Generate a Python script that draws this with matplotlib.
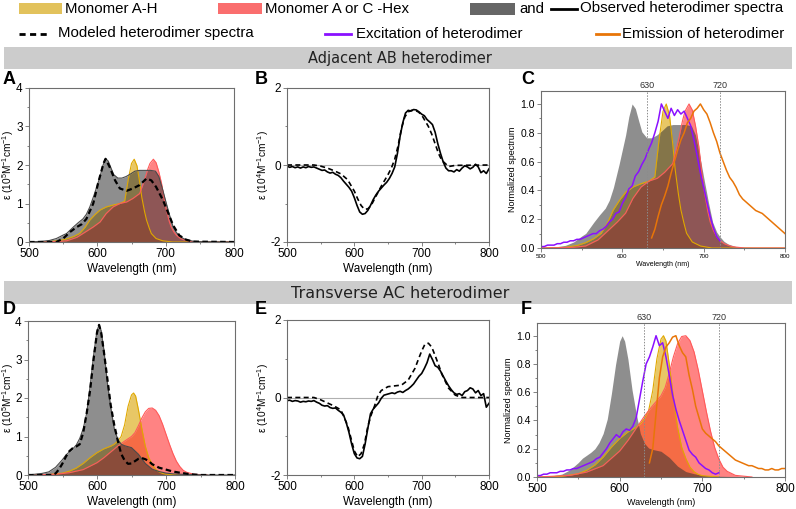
import numpy as np
import matplotlib
matplotlib.use("Agg")
import matplotlib.pyplot as plt
import matplotlib.ticker as mticker
from matplotlib.patches import Rectangle
from matplotlib.lines import Line2D

plt.rcParams['font.family'] = ['Liberation Sans', 'DejaVu Sans']
plt.rcParams['axes.unicode_minus'] = False
plt.rcParams['mathtext.fontset'] = 'custom'
plt.rcParams['mathtext.rm'] = 'Liberation Sans'
plt.rcParams['mathtext.it'] = 'Liberation Sans:italic'

W, H = 796, 509

# ---------- Adjacent AB heterodimer (absorption, 1e5 M-1 cm-1) ----------
A_gray_x = [500, 510, 520, 530, 540, 550, 555, 565, 572, 579, 584, 589, 596, 604, 608,
            612, 616, 620, 624, 630, 636, 642, 648, 655, 662, 670, 678, 685, 690, 695,
            701, 706, 711, 716, 720, 725, 730, 740, 750, 800]
A_gray_y = [0.0, 0.01, 0.02, 0.04, 0.09, 0.18, 0.22, 0.39, 0.5, 0.6, 0.72, 0.91, 1.26, 1.7, 1.98,
            2.17, 2.1, 1.92, 1.75, 1.66, 1.66, 1.7, 1.76, 1.84, 1.86, 1.86, 1.86, 1.84, 1.7, 1.4,
            1.0, 0.68, 0.39, 0.24, 0.17, 0.1, 0.06, 0.02, 0.01, 0.0]
A_dash_x = [500, 540, 550, 560, 570, 577, 584, 594, 601, 609, 612, 618, 626, 633, 643,
            652, 662, 672, 679, 686, 696, 704, 711, 720, 730, 740, 800]
A_dash_y = [0.0, 0.0, 0.09, 0.26, 0.39, 0.46, 0.6, 1.0, 1.52, 2.04, 2.16, 1.95, 1.6, 1.39, 1.33,
            1.39, 1.48, 1.65, 1.6, 1.43, 1.09, 0.74, 0.43, 0.17, 0.06, 0.01, 0.0]
A_yel_x = [500, 530, 545, 555, 565, 574, 582, 589, 597, 604, 613, 623, 633, 640, 645,
           650, 654, 658, 662, 665, 669, 672, 676, 679, 686, 696, 710, 800]
A_yel_y = [0.0, 0.01, 0.04, 0.08, 0.14, 0.22, 0.38, 0.57, 0.72, 0.83, 0.91, 0.96, 1.0, 1.06, 1.6,
           2.04, 2.15, 1.98, 1.55, 1.17, 0.8, 0.57, 0.36, 0.22, 0.09, 0.03, 0.0, 0.0]
A_red_x = [500, 540, 555, 570, 579, 594, 604, 613, 623, 633, 643, 652, 662, 669, 674,
           677, 682, 686, 690, 694, 698, 701, 705, 708, 712, 716, 721, 726, 735, 750, 800]
A_red_y = [0.0, 0.01, 0.03, 0.12, 0.22, 0.39, 0.52, 0.74, 0.91, 1.0, 1.04, 1.13, 1.26, 1.61, 1.9,
           2.04, 2.15, 2.06, 1.82, 1.52, 1.1, 0.83, 0.55, 0.39, 0.26, 0.17, 0.1, 0.06, 0.02, 0.0, 0.0]

# CD (1e4 M-1 cm-1), observed on a 4 nm grid
B_obs_y = [-0.03, -0.06, -0.04, -0.07, -0.05, -0.08, -0.05, -0.07, -0.04, -0.06, -0.05,
           -0.08, -0.11, -0.14, -0.13, -0.18, -0.21, -0.19, -0.24, -0.27, -0.33,
           -0.42, -0.5, -0.58, -0.68, -0.85, -1.05, -1.22, -1.28, -1.26, -1.18,
           -1.05, -0.9, -0.78, -0.68, -0.6, -0.52, -0.45, -0.35, -0.22, -0.05,
           0.3, 0.75, 1.1, 1.35, 1.42, 1.4, 1.44, 1.43, 1.38, 1.32,
           1.28, 1.18, 1.12, 1.05, 0.85, 0.55, 0.3, 0.08, -0.08, -0.15,
           -0.15, -0.18, -0.12, -0.16, -0.08, -0.02, -0.05, -0.1, -0.06, 0.02,
           -0.05, -0.2, -0.15, -0.22, -0.1]
B_dash_x = [500, 540, 550, 560, 570, 580, 590, 600, 605, 610, 615, 620, 625, 630, 640,
            650, 655, 660, 665, 670, 675, 680, 685, 690, 695, 700, 705, 710, 715, 720,
            725, 730, 740, 750, 800]
B_dash_y = [0.0, 0.0, -0.03, -0.08, -0.15, -0.23, -0.38, -0.68, -0.88, -1.05, -1.15, -1.14, -1.05, -0.88, -0.55,
            -0.25, -0.08, 0.15, 0.5, 0.95, 1.25, 1.38, 1.42, 1.42, 1.38, 1.3, 1.15, 1.0, 0.8, 0.55,
            0.3, 0.12, -0.04, -0.01, 0.0]

# excitation / emission (normalized)
C_exc_y = [0.01, 0.01, 0.02, 0.02, 0.02, 0.03, 0.03, 0.04, 0.04, 0.05, 0.05,
           0.06, 0.06, 0.07, 0.08, 0.09, 0.1, 0.1, 0.12, 0.13, 0.15,
           0.18, 0.2, 0.24, 0.25, 0.31, 0.35, 0.41, 0.43, 0.5, 0.53,
           0.58, 0.62, 0.68, 0.73, 0.8, 0.88, 1.0, 0.95, 0.9, 0.97,
           0.92, 0.96, 0.93, 0.95, 0.9, 0.85, 0.75, 0.64, 0.52, 0.42,
           0.32, 0.22, 0.14, 0.08, 0.05]
C_em_y = [0.07, 0.13, 0.22, 0.3, 0.36, 0.43, 0.52, 0.6, 0.68, 0.75,
          0.8, 0.87, 0.9, 0.95, 0.97, 1.0, 0.96, 0.93, 0.87, 0.8,
          0.74, 0.66, 0.6, 0.54, 0.49, 0.46, 0.42, 0.37, 0.34, 0.32,
          0.3, 0.28, 0.26, 0.25, 0.24, 0.22, 0.2, 0.18, 0.16, 0.14,
          0.12, 0.1]

# ---------- Transverse AC heterodimer ----------
D_gray_x = [500, 510, 520, 530, 540, 550, 555, 560, 565, 570, 575, 580, 585, 590, 595,
            600, 603, 606, 610, 615, 620, 625, 630, 635, 640, 650, 660, 670, 680, 690,
            700, 710, 720, 740, 760, 800]
D_gray_y = [0.0, 0.02, 0.04, 0.08, 0.2, 0.4, 0.52, 0.6, 0.68, 0.78, 0.95, 1.2, 1.6, 2.3, 3.1,
            3.75, 3.9, 3.75, 3.25, 2.4, 1.75, 1.2, 0.93, 0.8, 0.76, 0.71, 0.54, 0.3, 0.15, 0.09,
            0.05, 0.03, 0.02, 0.01, 0.0, 0.0]
D_dash_x = [500, 535, 540, 545, 550, 555, 560, 565, 570, 575, 580, 585, 590, 595, 600,
            603, 606, 610, 615, 620, 625, 630, 635, 640, 645, 650, 655, 660, 665, 670,
            675, 680, 690, 700, 710, 720, 735, 750, 800]
D_dash_y = [0.0, 0.0, 0.04, 0.15, 0.3, 0.48, 0.62, 0.7, 0.74, 0.8, 1.1, 1.6, 2.2, 3.0, 3.7,
            3.9, 3.7, 3.2, 2.5, 1.8, 1.3, 0.9, 0.55, 0.38, 0.29, 0.3, 0.36, 0.42, 0.44, 0.41,
            0.36, 0.28, 0.19, 0.14, 0.09, 0.06, 0.02, 0.0, 0.0]
D_yel_x = [500, 530, 550, 560, 570, 580, 590, 600, 610, 620, 625, 630, 635, 640, 645,
           650, 653, 656, 660, 665, 670, 675, 680, 685, 690, 695, 700, 720]
D_yel_y = [0.0, 0.01, 0.05, 0.1, 0.18, 0.3, 0.45, 0.58, 0.68, 0.75, 0.8, 0.88, 1.0, 1.3, 1.78,
           2.08, 2.13, 2.05, 1.7, 1.2, 0.75, 0.45, 0.28, 0.15, 0.08, 0.04, 0.02, 0.0]
D_red_x = [500, 540, 560, 580, 600, 610, 620, 630, 640, 650, 655, 660, 665, 670, 675,
           680, 685, 690, 695, 700, 705, 710, 715, 720, 725, 730, 740, 760]
D_red_y = [0.0, 0.02, 0.06, 0.14, 0.32, 0.45, 0.6, 0.75, 0.88, 1.0, 1.1, 1.28, 1.48, 1.64, 1.73,
           1.74, 1.68, 1.54, 1.32, 1.06, 0.8, 0.56, 0.36, 0.22, 0.12, 0.07, 0.02, 0.0]

E_obs_y = [-0.08, -0.07, -0.1, -0.08, -0.09, -0.12, -0.1, -0.11, -0.09, -0.1, -0.08,
           -0.12, -0.15, -0.2, -0.22, -0.21, -0.26, -0.28, -0.27, -0.33, -0.38,
           -0.45, -0.65, -0.9, -1.2, -1.45, -1.56, -1.58, -1.52, -1.2, -0.8,
           -0.42, -0.3, -0.22, -0.14, -0.02, 0.06, 0.08, 0.1, 0.12, 0.1,
           0.14, 0.16, 0.13, 0.18, 0.22, 0.28, 0.35, 0.45, 0.55, 0.62,
           0.75, 0.9, 1.12, 0.98, 0.82, 0.78, 0.68, 0.55, 0.42, 0.3,
           0.2, 0.12, 0.08, 0.1, 0.05, 0.15, 0.18, 0.25, 0.22, 0.12,
           0.18, 0.05, 0.1, -0.25, -0.15]
E_dash_x = [500, 540, 550, 560, 570, 580, 590, 595, 600, 605, 610, 615, 620, 625, 630,
            635, 640, 650, 660, 670, 680, 690, 695, 700, 705, 710, 715, 720, 725, 730,
            740, 750, 760, 800]
E_dash_y = [0.0, 0.0, -0.06, -0.14, -0.22, -0.32, -0.72, -1.05, -1.38, -1.53, -1.45, -1.2, -0.75, -0.45, -0.22,
            0.05, 0.18, 0.28, 0.3, 0.32, 0.45, 0.75, 0.98, 1.2, 1.38, 1.4, 1.3, 1.08, 0.85, 0.6,
            0.24, 0.06, 0.0, 0.0]

F_exc_y = [0.01, 0.01, 0.02, 0.02, 0.03, 0.03, 0.03, 0.04, 0.04, 0.05, 0.05,
           0.06, 0.06, 0.07, 0.08, 0.09, 0.1, 0.11, 0.13, 0.14, 0.17,
           0.2, 0.24, 0.27, 0.3, 0.28, 0.32, 0.34, 0.33, 0.36, 0.42,
           0.55, 0.68, 0.8, 0.85, 0.92, 1.0, 0.93, 0.95, 0.85, 0.72,
           0.58, 0.48, 0.4, 0.33, 0.26, 0.19, 0.16, 0.14, 0.1, 0.08,
           0.06, 0.05, 0.03, 0.02, 0.03]
F_em_y = [0.1, 0.2, 0.45, 0.7, 0.85, 0.92, 0.95, 0.99, 1.0, 0.93,
          0.88, 0.85, 0.72, 0.62, 0.5, 0.42, 0.34, 0.31, 0.29, 0.27,
          0.25, 0.22, 0.2, 0.18, 0.16, 0.14, 0.12, 0.11, 0.1, 0.09,
          0.08, 0.08, 0.07, 0.06, 0.06, 0.05, 0.05, 0.06, 0.05, 0.05,
          0.06, 0.06]

cd_x = np.arange(500, 801, 4)
exc_x = np.arange(500, 721, 4)
em_x = np.arange(636, 801, 4)

YEL, YEL_EDGE = "#d9a300", "#e0a800"
RED, RED_EDGE = "#ff3030", "#ff5a5a"
GRY, GRY_EDGE = "#323232", "#4a4a4a"
PURPLE, ORANGE = "#8a10ff", "#e87508"

ABS_LABEL = r"ε (10$^{5}$M$^{-1}$cm$^{-1}$)"
CD_LABEL = r"ε (10$^{4}$M$^{-1}$cm$^{-1}$)"

fig = plt.figure(figsize=(W / 100, H / 100), dpi=100)


def axes_px(l, t, r, b):
    return fig.add_axes([l / W, 1 - b / H, (r - l) / W, (b - t) / H])


def style(ax, xfs=8.5, yfs=8.5):
    for s in ax.spines.values():
        s.set_color("#6e6e6e")
        s.set_linewidth(0.8)
    ax.set_xlim(500, 800)
    ax.xaxis.set_major_locator(mticker.MultipleLocator(100))
    ax.xaxis.set_minor_locator(mticker.MultipleLocator(50))
    ax.tick_params(which="both", direction="out", color="#6e6e6e", width=0.6)
    ax.tick_params(which="major", length=3, pad=1.5)
    ax.tick_params(which="minor", length=1.5)
    ax.tick_params(axis="x", labelsize=xfs)
    ax.tick_params(axis="y", labelsize=yfs)


def place_ylabel(ax, text, center_px, left_px, width_px):
    ax.set_ylabel(text, fontsize=7.3, va="center")
    ax.yaxis.set_label_coords((center_px - left_px) / width_px, 0.5)


def absorption(ax, gx, gy, yx, yy, rx, ry, dx, dy, norm=False):
    gy, yy, ry = np.array(gy), np.array(yy), np.array(ry)
    if norm:
        gy, yy, ry = gy / gy.max(), yy / yy.max(), ry / ry.max()
    ax.fill_between(yx, yy, color=YEL, alpha=0.6, lw=0)
    ax.plot(yx, yy, color=YEL_EDGE, lw=0.8)
    ax.fill_between(rx, ry, color=RED, alpha=0.6, lw=0)
    ax.plot(rx, ry, color=RED_EDGE, lw=0.8)
    ax.fill_between(gx, gy, color=GRY, alpha=0.55, lw=0)
    if not norm:
        ax.plot(gx, gy, color=GRY_EDGE, lw=0.8)
        ax.plot(dx, dy, color="black", lw=1.6, ls=(0, (2.5, 1.5)))
        ax.set_ylim(0, 4)
        ax.yaxis.set_minor_locator(mticker.MultipleLocator(0.5))
        ax.set_xlabel("Wavelength (nm)", fontsize=8.5, labelpad=2)


def cd(ax, oy, dx, dy):
    ax.axhline(0, color="#b0b0b0", lw=0.8)
    ax.plot(cd_x, oy, color="black", lw=1.2)
    ax.plot(dx, dy, color="black", lw=1.2, ls=(0, (3, 2)))
    ax.set_ylim(-2, 2)
    ax.set_yticks([-2, 0, 2])
    ax.yaxis.set_minor_locator(mticker.MultipleLocator(1))
    ax.set_xlabel("Wavelength (nm)", fontsize=8.5, labelpad=2)


def fluor(ax, exc, em, top_fs):
    ax.plot(exc_x, exc, color=PURPLE, lw=1.1)
    ax.plot(em_x, em, color=ORANGE, lw=1.1)
    ax.set_ylim(0, 1.09)
    ax.yaxis.set_major_locator(mticker.MultipleLocator(0.2))
    ax.yaxis.set_minor_locator(mticker.MultipleLocator(0.1))
    ax.yaxis.set_major_formatter(mticker.FormatStrFormatter("%.1f"))
    for xv in (630, 720):
        ax.axvline(xv, color="#8c8c8c", lw=0.7, ls=(0, (1.5, 1.5)))
        ax.text(xv, 1.1, str(xv), ha="center", va="bottom", fontsize=top_fs, color="#333333")
    ax.set_ylabel("Normalized spectrum", fontsize=6.5, labelpad=2)


# panel A
axA = axes_px(29, 88, 234, 242)
absorption(axA, A_gray_x, A_gray_y, A_yel_x, A_yel_y, A_red_x, A_red_y, A_dash_x, A_dash_y)
style(axA)
place_ylabel(axA, ABS_LABEL, 8.5, 29, 205)

# panel B
axB = axes_px(287, 88, 489, 242)
style(axB)
cd(axB, B_obs_y, B_dash_x, B_dash_y)
place_ylabel(axB, CD_LABEL, 263.5, 287, 202)

# panel C
axC = axes_px(541, 91, 785, 248)
absorption(axC, A_gray_x, A_gray_y, A_yel_x, A_yel_y, A_red_x, A_red_y, None, None, norm=True)
fluor(axC, C_exc_y, C_em_y, 6.5)
style(axC, xfs=4.5, yfs=7.5)
axC.set_xlabel("Wavelength (nm)", fontsize=5, labelpad=1)

# panel D
axD = axes_px(28, 321, 235, 475)
absorption(axD, D_gray_x, D_gray_y, D_yel_x, D_yel_y, D_red_x, D_red_y, D_dash_x, D_dash_y)
style(axD)
place_ylabel(axD, ABS_LABEL, 8.5, 28, 207)

# panel E
axE = axes_px(287, 320, 489, 475)
style(axE)
cd(axE, E_obs_y, E_dash_x, E_dash_y)
place_ylabel(axE, CD_LABEL, 263.5, 287, 202)

# panel F
axF = axes_px(537, 323, 785, 477)
absorption(axF, D_gray_x, D_gray_y, D_yel_x, D_yel_y, D_red_x, D_red_y, None, None, norm=True)
fluor(axF, F_exc_y, F_em_y, 6.5)
style(axF, xfs=8.5, yfs=7.5)
axF.set_xlabel("Wavelength (nm)", fontsize=6.5, labelpad=2)

# overlay in pixel coordinates: legend, banners, panel letters
ov = fig.add_axes([0, 0, 1, 1])
ov.set_xlim(0, W)
ov.set_ylim(H, 0)
ov.axis("off")
ov.set_zorder(-1)

lfs = 10.8
ov.add_patch(Rectangle((19, 3), 43, 11, color="#e2c25c", lw=0))
ov.text(65, 9, "Monomer A-H", fontsize=lfs, va="center")
ov.add_patch(Rectangle((218, 3), 44, 11, color="#fa6e6e", lw=0))
ov.text(265, 9, "Monomer A or C -Hex", fontsize=lfs, va="center")
ov.add_patch(Rectangle((470, 3), 45, 12, color="#666666", lw=0))
ov.text(519, 9, "and", fontsize=lfs, va="center")
ov.add_line(Line2D([551, 577], [9, 9], color="black", lw=2))
ov.text(580, 8, "Observed heterodimer spectra", fontsize=lfs, va="center")

ov.add_line(Line2D([19, 47], [34, 34], color="black", lw=2, ls=(0, (2.2, 1.6))))
ov.text(58, 33, "Modeled heterodimer spectra", fontsize=lfs, va="center")
ov.add_line(Line2D([325, 351], [34, 34], color=PURPLE, lw=2))
ov.text(356, 34, "Excitation of heterodimer", fontsize=lfs, va="center")
ov.add_line(Line2D([596, 619], [34, 34], color=ORANGE, lw=2))
ov.text(622, 34, "Emission of heterodimer", fontsize=lfs, va="center")

for top, bottom, label, fs in [(47, 69, "Adjacent AB heterodimer", 10.5),
                               (281, 304, "Transverse AC heterodimer", 11.5)]:
    ov.add_patch(Rectangle((4, top), 788, bottom - top, color="#cccccc", lw=0))
    ov.text(400, (top + bottom) / 2 + 0.5, label, fontsize=fs, ha="center", va="center",
            family="DejaVu Sans", color="#222222")

for x, y, letter in [(3, 79, "A"), (255, 79, "B"), (521, 79, "C"),
                     (3, 310, "D"), (255, 310, "E"), (521, 310, "F")]:
    ov.text(x, y, letter, fontsize=13, fontweight="bold", va="center")

fig.savefig("out.png", dpi=100)
